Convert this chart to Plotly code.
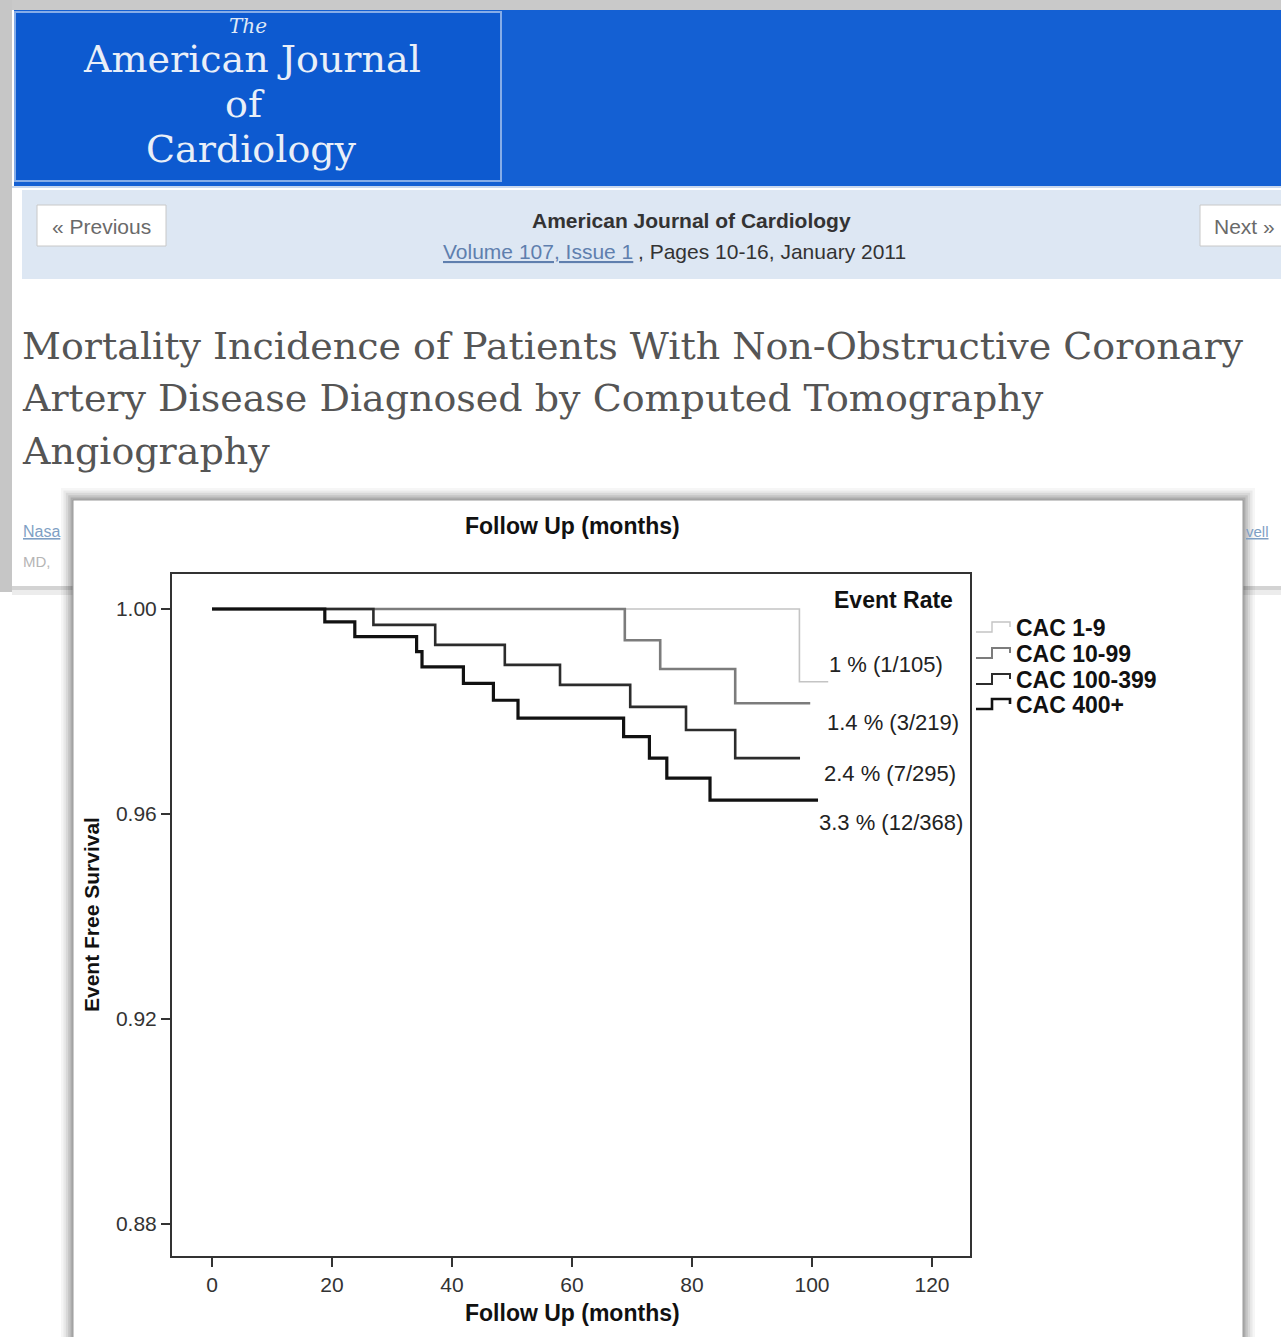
import plotly.graph_objects as go

W, H = 1281, 1337

# ---------------- data ----------------
groups = ["CAC 1-9", "CAC 10-99", "CAC 100-399", "CAC 400+"]
event_rates = ["1 % (1/105)", "1.4 % (3/219)", "2.4 % (7/295)", "3.3 % (12/368)"]

t_cac_1_9 = [0, 97.9, 102.7]
s_cac_1_9 = [1.0, 0.9858, 0.9858]

t_cac_10_99 = [0, 68.8, 74.7, 87.2, 99.7]
s_cac_10_99 = [1.0, 0.9939, 0.9883, 0.9816, 0.9816]

t_cac_100_399 = [0, 26.9, 37.2, 48.8, 58.0, 69.7, 79.0, 87.2, 98.0]
s_cac_100_399 = [1.0, 0.9969, 0.9930, 0.9891, 0.9852, 0.9809, 0.9764, 0.9709, 0.9709]

t_cac_400 = [0, 18.8, 23.8, 34.1, 35.0, 41.9, 46.9, 51.0, 68.6, 72.9, 75.8, 83.0, 101.0]
s_cac_400 = [1.0, 0.9975, 0.9946, 0.9917, 0.9887, 0.9855, 0.9822, 0.9787, 0.9751,
             0.9709, 0.9670, 0.9627, 0.9627]

x_ticks = [0, 20, 40, 60, 80, 100, 120]
y_ticks = [0.88, 0.92, 0.96, 1.00]

# ---------------- styling ----------------
series_t = [t_cac_1_9, t_cac_10_99, t_cac_100_399, t_cac_400]
series_s = [s_cac_1_9, s_cac_10_99, s_cac_100_399, s_cac_400]
colors = ["#c4c4c4", "#7c7c7c", "#2c2c2c", "#111111"]
widths = [1.6, 2.6, 2.6, 3.2]

SANS = "Liberation Sans, Arial, sans-serif"
SERIF = "DejaVu Serif, Georgia, serif"


def X(px):
    return px / W


def Y(py):
    return 1 - py / H


shapes = []


def rect(x0, y0, x1, y1, fill, line_color=None, lw=0):
    shapes.append(dict(type="rect", xref="paper", yref="paper", layer="below",
                       x0=X(x0), x1=X(x1), y0=Y(y1), y1=Y(y0),
                       fillcolor=fill,
                       line=dict(color=line_color or "rgba(0,0,0,0)", width=lw)))


def hline(x0, x1, y, color, w):
    shapes.append(dict(type="line", xref="paper", yref="paper", layer="below",
                       x0=X(x0), x1=X(x1), y0=Y(y), y1=Y(y), line=dict(color=color, width=w)))


# ---------------- web page background ----------------
rect(0, 0, W, H, "#ffffff")
rect(0, 0, W, 10, "#c9c9c9")
rect(0, 0, 12, 592, "#c6c6c6")
rect(12, 10, W, 588, "#ffffff")
# blue header
rect(14, 10, W, 186, "#1460d3")
rect(15, 12, 501, 181, "#0d5ad0", "#86ade8", 2)
hline(12, W, 187, "#c9d8ee", 2)
# nav bar
rect(22, 190, W, 279, "#dde7f3")
rect(37, 205, 166, 246, "#ffffff", "#c8c8c8", 1)
rect(1200, 205, W + 5, 246, "#ffffff", "#c8c8c8", 1)
# page bottom shadow
rect(12, 586, W, 590, "#d3d3d3")
rect(12, 590, W, 595, "#ececec")

# ---------------- chart box with shadow ----------------
for i, op in enumerate([0.035, 0.05, 0.07, 0.09, 0.12]):
    d = 12 - i * 2.4
    rect(73 - d, 500 - d, 1243 + d, H + 5, "rgba(0,0,0,%.3f)" % op)
rect(73, 500, 1243, H + 5, "#ffffff", "#9a9a9a", 1)

# ---------------- legend icons (step symbols) ----------------
leg_y = [628, 654, 680, 705]
for c, w, yy in zip(colors, widths, leg_y):
    path = "M %f %f L %f %f L %f %f L %f %f L %f %f" % (
        X(976), Y(yy + 4), X(992), Y(yy + 4), X(992), Y(yy - 6),
        X(1010), Y(yy - 6), X(1010), Y(yy - 1))
    shapes.append(dict(type="path", xref="paper", yref="paper", layer="above",
                       path=path, line=dict(color=c, width=max(w - 0.6, 1.4))))

# ---------------- traces ----------------
fig = go.Figure()
for name, t, s, c, w in zip(groups, series_t, series_s, colors, widths):
    fig.add_trace(go.Scatter(x=t, y=s, mode="lines", name=name,
                             line=dict(color=c, width=w, shape="hv"),
                             showlegend=False, hoverinfo="x+y+name"))

# ---------------- annotations ----------------
ann = []


def text(x, y, s, size, color="#222", family=SANS, anchor="center", bold=False,
         italic=False, textangle=0):
    if bold:
        s = "<b>%s</b>" % s
    if italic:
        s = "<i>%s</i>" % s
    ann.append(dict(xref="paper", yref="paper", x=X(x), y=Y(y), text=s,
                    showarrow=False, xanchor=anchor, yanchor="middle",
                    textangle=textangle,
                    font=dict(family=family, size=size, color=color)))


# logo
text(248, 26, "The", 20, "#dfe8f6", SERIF, italic=True)
text(252, 59, "American Journal", 38, "#e9eff8", SERIF)
text(245, 104, "of", 38, "#e9eff8", SERIF)
text(251, 149, "Cardiology", 38, "#e9eff8", SERIF)
# nav
text(101, 226, "« Previous", 21, "#6a6a6a")
text(1212, 226, "Next »", 21, "#6a6a6a", anchor="left")
text(691, 220, "American Journal of Cardiology", 21, "#333", bold=True)
text(441, 252, "<u>Volume 107, Issue 1</u>", 21, "#5f7fae", anchor="left")
text(636, 252, ", Pages 10-16, January 2011", 21, "#333", anchor="left")
# article title
text(20, 346, "Mortality Incidence of Patients With Non-Obstructive Coronary", 38, "#555", SERIF, anchor="left")
text(20, 398, "Artery Disease Diagnosed by Computed Tomography", 38, "#555", SERIF, anchor="left")
text(20, 451, "Angiography", 38, "#555", SERIF, anchor="left")
# partially hidden author lines
text(21, 531, "<u>Nasa</u>", 16, "#7f9fc4", anchor="left")
text(21, 561, "MD,", 15, "#b5b5b5", anchor="left")
text(1244, 531, "<u>vell</u>", 15, "#7f9fc4", anchor="left")

# chart texts
text(572, 526, "Follow Up (months)", 23, "#111", bold=True)
text(572, 1313, "Follow Up (months)", 23, "#111", bold=True)
text(91, 915, "Event Free Survival", 21, "#111", bold=True, textangle=-90)
text(893, 600, "Event Rate", 23, "#111", bold=True)
for lbl, xx, yy in zip(event_rates, [886, 893, 890, 891], [664, 722, 773, 822]):
    text(xx, yy, lbl, 22, "#222")
for g, yy in zip(groups, leg_y):
    text(1014, yy, g, 23, "#111", bold=True, anchor="left")

# ---------------- layout ----------------
fig.update_layout(
    width=W, height=H, autosize=False,
    margin=dict(l=0, r=0, t=0, b=0),
    paper_bgcolor="#ffffff", plot_bgcolor="rgba(0,0,0,0)",
    shapes=shapes, annotations=ann, showlegend=False,
    xaxis=dict(domain=[172 / W, 970 / W], range=[-6.667, 126.33],
               tickvals=x_ticks, ticktext=[str(v) for v in x_ticks],
               ticks="outside", ticklen=9, tickwidth=2, tickcolor="#333",
               showline=True, mirror=True, linecolor="#333", linewidth=2,
               showgrid=False, zeroline=False,
               tickfont=dict(family=SANS, size=21, color="#333")),
    yaxis=dict(domain=[1 - 1256 / H, 1 - 574 / H], range=[0.87376, 1.00683],
               tickvals=y_ticks, ticktext=["%.2f" % v for v in y_ticks],
               ticks="outside", ticklen=9, tickwidth=2, tickcolor="#333",
               showline=True, mirror=True, linecolor="#333", linewidth=2,
               showgrid=False, zeroline=False,
               tickfont=dict(family=SANS, size=21, color="#333")),
)

fig.write_html("out.html", config={"displayModeBar": False},
               post_script="document.body.style.margin='0';document.body.style.overflow='hidden';")
